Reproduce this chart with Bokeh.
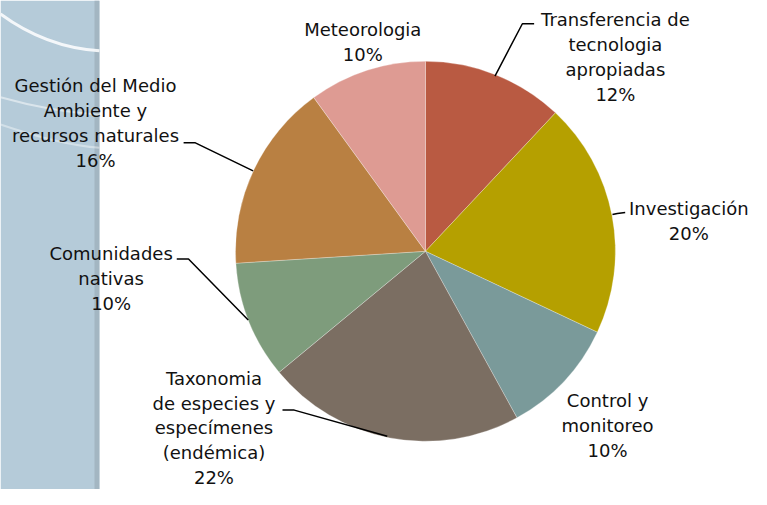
import math
from bokeh.plotting import figure
from bokeh.models import Range1d
from bokeh.core.properties import value
from bokeh.embed import file_html
from bokeh.resources import INLINE

# ---- data ----
categories = [
    "Transferencia de\ntecnologia\napropiadas",
    "Investigación",
    "Control y\nmonitoreo",
    "Taxonomia\nde especies y\nespecímenes\n(endémica)",
    "Comunidades\nnativas",
    "Gestión del Medio\nAmbiente y\nrecursos naturales",
    "Meteorologia",
]
percentages = [12, 20, 10, 22, 10, 16, 10]
colors = ["#B95A42", "#B5A000", "#7A9A9A", "#7B6E62", "#7E9C7C", "#B98042", "#DE9B93"]

# ---- layout (reference pixel coords, 767x505 mapped onto the figure) ----
W, H = 751, 489
def Y(ry):
    return 505 - ry

p = figure(width=W, height=H, output_backend="svg", toolbar_location=None,
           x_range=Range1d(0, 767), y_range=Range1d(0, 505),
           min_border=0, outline_line_color=None)
p.axis.visible = False
p.grid.visible = False
p.background_fill_color = "white"
p.border_fill_color = "white"

# decorative left strip
p.quad(left=0, right=101, bottom=Y(505), top=Y(0), fill_color="#B5CBD9", line_color=None)
p.quad(left=96, right=101, bottom=Y(505), top=Y(0), fill_color="#A3B6C2", line_color=None)
p.bezier(x0=[0], y0=[Y(14)], x1=[101], y1=[Y(52)], cx0=[35], cy0=[Y(40)], cx1=[70], cy1=[Y(50)],
         line_color="white", line_width=3, line_alpha=0.85)
p.bezier(x0=[0], y0=[Y(100)], x1=[101], y1=[Y(118)], cx0=[35], cy0=[Y(110)], cx1=[70], cy1=[Y(116)],
         line_color="white", line_width=2, line_alpha=0.5)
p.bezier(x0=[0], y0=[Y(128)], x1=[101], y1=[Y(152)], cx0=[35], cy0=[Y(140)], cx1=[70], cy1=[Y(150)],
         line_color="white", line_width=2, line_alpha=0.4)

# pie
cx, cy, r = 434, Y(259), 194
total = sum(percentages)
cum = 0
starts, ends = [], []
for v in percentages:
    starts.append(math.pi / 2 - 2 * math.pi * cum / total)
    cum += v
    ends.append(math.pi / 2 - 2 * math.pi * cum / total)
p.wedge(x=[cx] * len(percentages), y=[cy] * len(percentages), radius=r,
        start_angle=starts, end_angle=ends, direction="clock",
        fill_color=colors, line_color="#FFFFFF", line_alpha=0.35, line_width=0.8)

# leader lines
leaders = [
    ([505, 533, 545], [78, 24, 24]),
    ([625, 630, 638], [221, 220, 219]),
    ([395, 300, 288], [450, 423, 423]),
    ([253, 192, 180], [330, 267, 267]),
    ([258, 199, 187], [176, 147, 147]),
]
for xs, ys in leaders:
    p.line(xs, [Y(v) for v in ys], line_color="black", line_width=1.5)

# labels
anchors = [(628, 20), (703, 215), (620, 413), (218, 390), (113, 261), (97, 88), (370, 30)]
spacing = 25.7
tx, ty, tt = [], [], []
for cat, v, (ax, ay) in zip(categories, percentages, anchors):
    lines = cat.split("\n") + [f"{v}%"]
    for i, ln in enumerate(lines):
        tx.append(ax)
        ty.append(Y(ay + i * spacing))
        tt.append(ln)
p.text(x=tx, y=ty, text=tt, text_align="center", text_baseline="middle",
       text_font=value("DejaVu Sans"), text_font_size="18px", text_color="#111111")

open("out.html", "w").write(file_html(p, INLINE))
